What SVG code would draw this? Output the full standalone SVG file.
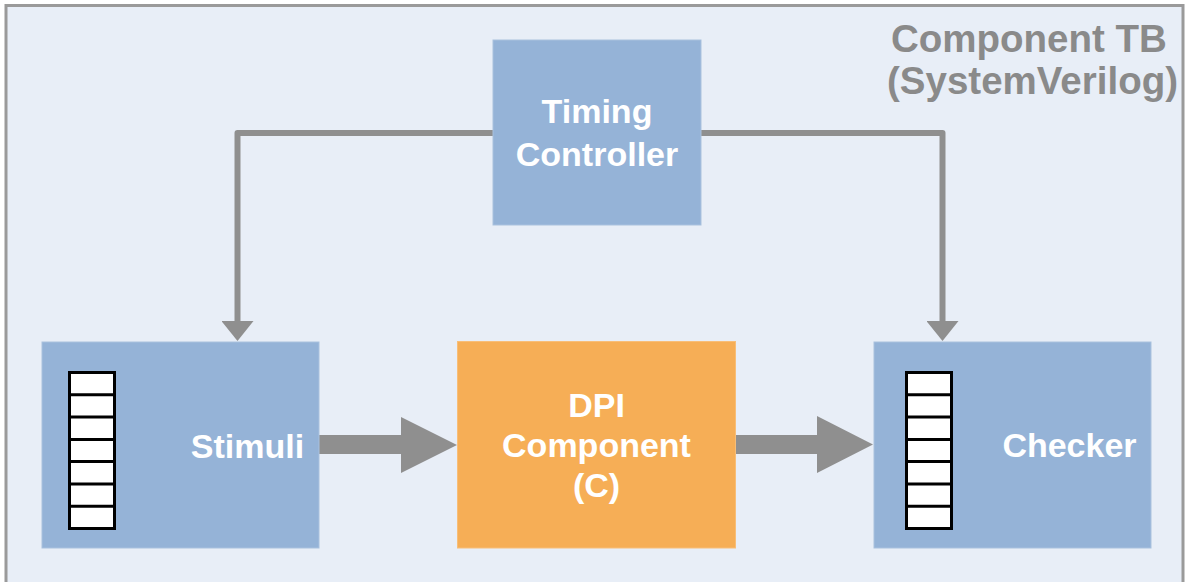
<svg xmlns="http://www.w3.org/2000/svg" width="1185" height="582" viewBox="0 0 1185 582">
<style>
.blk{fill:#95b3d7;stroke:#a9c1de;stroke-width:1}
.dpi{fill:#f6ae56;stroke:#f8be78;stroke-width:1}
.lbl{font-family:"Liberation Sans",Arial,sans-serif;font-weight:bold;font-size:34px;fill:#ffffff;text-anchor:middle}
.title{font-family:"Liberation Sans",Arial,sans-serif;font-weight:bold;font-size:38.5px;fill:#8a8a8a}
.fifo{fill:#ffffff;stroke:#000000;stroke-width:3}
.cell{stroke:#000000;stroke-width:3}
.wire{fill:none;stroke:#8f8f8f;stroke-width:6;stroke-linejoin:round}
.big{fill:#8f8f8f}
</style>
<defs>
<marker id="ah" markerUnits="userSpaceOnUse" viewBox="0 0 20 32" markerWidth="20" markerHeight="32" refX="4" refY="16" orient="auto">
<path d="M0,0 L20,16 L0,32 z" fill="#8f8f8f"/>
</marker>
</defs>
<g id="frame">
<rect x="6" y="5.5" width="1177" height="620" fill="#e8eef7" stroke="#9a9a9a" stroke-width="3"/>
<text class="title" x="891" y="52">Component TB</text>
<text class="title" x="887" y="94">(SystemVerilog)</text>
</g>
<g id="connectors">
<path class="wire" d="M493,133 H237.5 V325" marker-end="url(#ah)"/>
<path class="wire" d="M700,133 H942.5 V325" marker-end="url(#ah)"/>
<polygon class="big" points="319,435 401,435 401,417 457,445 401,473 401,454 319,454"/>
<polygon class="big" points="736,435 817,435 817,416 873,444.5 817,473 817,454 736,454"/>
</g>
<g id="timing">
<rect class="blk" x="493" y="40" width="208" height="185"/>
<text class="lbl" x="597" y="123">Timing</text>
<text class="lbl" x="597" y="166">Controller</text>
</g>
<g id="stimuli">
<rect class="blk" x="42" y="342" width="277" height="206"/>
<rect class="fifo" x="69.5" y="372.5" width="45" height="156"/>
<path class="cell" d="M69.5,394.8 H114.5 M69.5,417.1 H114.5 M69.5,439.4 H114.5 M69.5,461.6 H114.5 M69.5,483.9 H114.5 M69.5,506.2 H114.5"/>
<text class="lbl" x="247.5" y="458">Stimuli</text>
</g>
<g id="dpi">
<rect class="dpi" x="457.5" y="341.5" width="278" height="206.5"/>
<text class="lbl" x="596.5" y="417">DPI</text>
<text class="lbl" x="596.5" y="457">Component</text>
<text class="lbl" x="596.5" y="497">(C)</text>
</g>
<g id="checker">
<rect class="blk" x="874" y="342" width="277" height="206"/>
<rect class="fifo" x="906.5" y="372.5" width="45" height="156"/>
<path class="cell" d="M906.5,394.8 H951.5 M906.5,417.1 H951.5 M906.5,439.4 H951.5 M906.5,461.6 H951.5 M906.5,483.9 H951.5 M906.5,506.2 H951.5"/>
<text class="lbl" x="1069.5" y="457">Checker</text>
</g>
</svg>
